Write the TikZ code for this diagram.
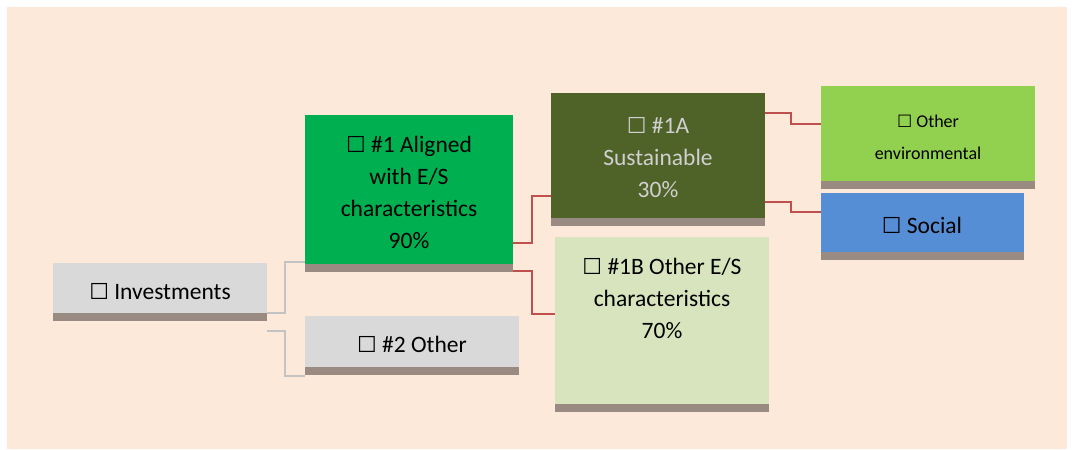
\documentclass[tikz,border=0pt]{standalone}
\usepackage{fontspec}
\setmainfont{Carlito}
\newfontfamily\symf{DejaVu Sans}
\usetikzlibrary{calc}
\definecolor{bgpeach}{HTML}{FCE9DA}
\definecolor{barc}{HTML}{998B81}
\definecolor{greyfill}{HTML}{D9D9D9}
\definecolor{greenfill}{HTML}{00B050}
\definecolor{olivefill}{HTML}{4F6228}
\definecolor{palegreen}{HTML}{D7E4BD}
\definecolor{limefill}{HTML}{92D050}
\definecolor{bluefill}{HTML}{558ED5}
\definecolor{redline}{HTML}{C0504D}
\definecolor{greyline}{HTML}{C3C3C3}
\definecolor{lighttext}{HTML}{D0D0D0}
\newcommand{\cbx}{{\symf\fontsize{22}{22}\selectfont ☐}}
\newcommand{\cbs}{{\symf\fontsize{17}{17}\selectfont ☐}}
\tikzset{
  boxshape/.style={rectangle, draw=none, inner sep=0pt, outer sep=0pt},
  txt/.style={inner sep=0pt, align=center, font=\fontsize{23.5}{32}\selectfont, text=black},
  smalltxt/.style={inner sep=0pt, align=center, font=\fontsize{18}{32}\selectfont, text=black},
  redconn/.style={draw=redline, line width=2pt},
  greyconn/.style={draw=greyline, line width=2pt},
}
\newcommand{\boxat}[6]{% name, x1, y1, x2, y2, colour
  \node[boxshape, fill=#6, minimum width=#4pt-#2pt, minimum height=#5pt-#3pt, anchor=north west] (#1) at (#2,#3) {};
  \fill[barc] (#1.south west) rectangle ++(#4-#2,7.5);
}
\begin{document}
\begin{tikzpicture}[x=1pt,y=-1pt]
\useasboundingbox (0,0) rectangle (1072,450);
\fill[white] (0,0) rectangle (1072,450);
\fill[bgpeach] (7,7) rectangle (1067,449);

\boxat{inv}{53}{263}{267}{313}{greyfill}
\boxat{a1}{305}{115}{513}{264}{greenfill}
\boxat{o2}{305}{316}{519}{367}{greyfill}
\boxat{s1a}{551}{93}{765}{218}{olivefill}
\boxat{b1}{555}{237}{769}{404}{palegreen}
\boxat{oe}{821}{86}{1035}{181}{limefill}
\boxat{so}{821}{193}{1024}{252}{bluefill}

\node[txt] (invt) at (160,292) {\cbx{} Investments};
\node[txt] (a1t) at (409,192) {\cbx{} \#1 Aligned\\with E/S\\characteristics\\90\%};
\node[txt] (o2t) at (412,344) {\cbx{} \#2 Other};
\node[txt, text=lighttext] (s1at) at (658,158) {{\color{lighttext}\cbx} \#1A\\Sustainable\\30\%};
\node[txt] (b1t) at (662,298) {\cbx{} \#1B Other E/S\\characteristics\\70\%};
\node[smalltxt] (oet) at (928,137) {\cbs{} Other\\environmental};
\node[txt] (sot) at (922,225) {\cbx{} Social};

\draw[greyconn] (inv.south east) -- ++(18,0) |- ($(a1.south west)+(0,-2)$);
\draw[greyconn] ($(inv.south east)+(0,18)$) -- ++(18,0) |- ($(o2.south west)+(0,9)$);

\draw[redconn] ($(a1.south east)+(0,-21)$) -- ++(19,0) |- ($(s1a.south west)+(0,-22)$);
\draw[redconn] ($(a1.south east)+(0,7)$) -- ++(19,0) |- ($(b1.north west)+(0,77)$);
\draw[redconn] ($(s1a.north east)+(0,20)$) -- ++(26,0) |- ($(oe.north west)+(0,38)$);
\draw[redconn] ($(s1a.south east)+(0,-16)$) -- ++(26,0) |- ($(so.north west)+(0,19)$);
\end{tikzpicture}
\end{document}
